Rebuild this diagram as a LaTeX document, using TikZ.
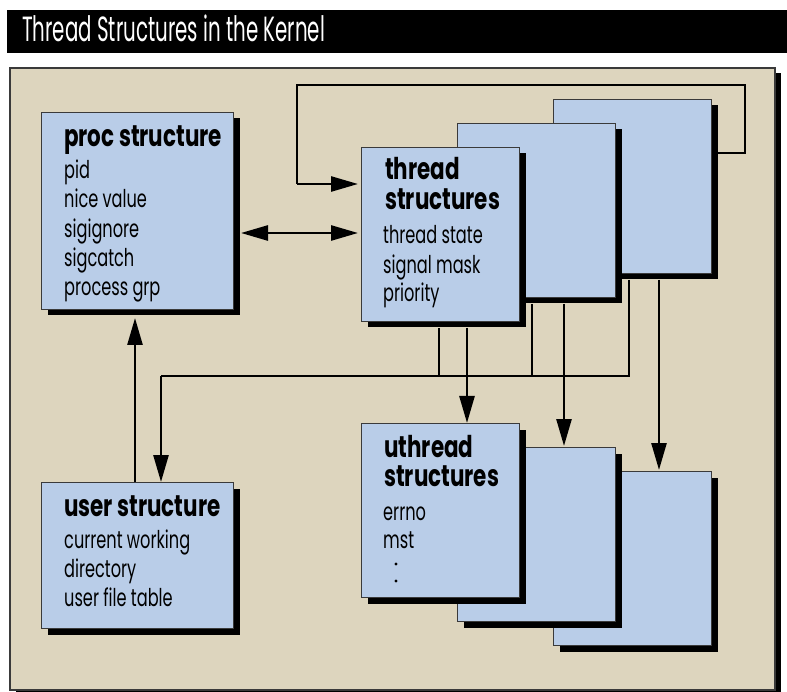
\documentclass[tikz,border=0pt]{standalone}
\usepackage{fontspec}
\usetikzlibrary{arrows.meta,calc,shadows}
\newfontfamily\bodyfam[FakeStretch=0.66]{Poppins}
\newfontfamily\headfam[FakeStretch=0.715]{Poppins}
\newfontfamily\titlefam[FakeStretch=0.566]{Poppins}
\definecolor{tan}{HTML}{DDD5BE}
\definecolor{boxblue}{HTML}{B9CDE8}
\definecolor{edge}{HTML}{3A3A3A}
\tikzset{
  blk/.style={draw=edge, line width=1pt, fill=boxblue, inner sep=0pt,
    drop shadow={shadow xshift=6pt, shadow yshift=-6pt, fill=black, opacity=1}},
  hd/.style={anchor=base west, inner sep=0pt, font=\headfam\bfseries\fontsize{30}{30}\selectfont},
  bd/.style={anchor=base west, inner sep=0pt, font=\bodyfam\fontsize{24.5}{24.5}\selectfont},
  wire/.style={line width=2.6pt, draw=black},
  arr/.style={wire, -{Triangle[length=27pt,width=15pt]}},
  arrs/.style={wire, {Triangle[length=27pt,width=15pt]}-{Triangle[length=27pt,width=15pt]}},
}
\begin{document}
\begin{tikzpicture}[x=1pt,y=-1pt]
\useasboundingbox (0,0) rectangle (787,692);
% title bar
\fill[black] (7,10) rectangle (787,53);
\node[anchor=base west, inner sep=0pt, text=white, font=\titlefam\fontsize{35}{35}\selectfont] (title) at (22,42) {Thread Structures in the Kernel};
% frame
\fill[black] (16,73) rectangle (781,696);
\draw[fill=tan, draw=edge, line width=1.2pt] (10,68) rectangle (775,690);

% structure boxes, back to front
\node[blk, minimum width=192, minimum height=197, anchor=north west] (proc) at (41,112) {};
\node[blk, minimum width=192, minimum height=146, anchor=north west] (user) at (41,482) {};

% connectors (drawn beneath the thread boxes)
\coordinate (busL) at (161,376);
\draw[wire] (711,153) -- (745,153) -- (745,85) -- (297,85) -- (297,184) coordinate (loopEnd);

\node[blk, minimum width=158, minimum height=174, anchor=north west] (th3) at (553,99) {};
\node[blk, minimum width=158, minimum height=174, anchor=north west] (th2) at (457,123) {};
\node[blk, minimum width=158, minimum height=174, anchor=north west] (th1) at (361,147) {};

\node[blk, minimum width=158, minimum height=174, anchor=north west] (ut3) at (553,471) {};
\node[blk, minimum width=158, minimum height=174, anchor=north west] (ut2) at (457,447) {};
\node[blk, minimum width=158, minimum height=174, anchor=north west] (ut1) at (361,423) {};

% taps under each thread box
\path ($(th1.south west)+(78,6)$) coordinate (tap1)
      ($(th2.south west)+(75,6)$) coordinate (tap2)
      ($(th3.south west)+(76,6)$) coordinate (tap3);

% loop from the last thread back to the first
\draw[arr] (loopEnd) -- ($(th1.north west)+(-3,37)$);
% proc <-> thread
\draw[arrs] ($(proc.north east)+(7,121)$) -- ($(th1.north west)+(-3,86)$);
% user -> proc
\draw[arr] ($(user.north west)+(94,0)$) -- ($(proc.south west)+(94,8)$);
% thread bus to user structure
\draw[wire] (tap3) |- (busL);
\draw[arr] (busL) -- (user.north -| busL);
\draw[wire] (tap1) -- (tap1 |- busL);
\draw[wire] (tap2) -- (tap2 |- busL);
% thread -> uthread
\draw[arr] ($(th1.south west)+(106,6)$) -- ($(ut1.north west)+(106,0)$);
\draw[arr] ($(th2.south west)+(107,6)$) -- ($(ut2.north west)+(107,-1)$);
\draw[arr] ($(th3.south west)+(106,6)$) -- ($(ut3.north west)+(106,-1)$);

% texts
\node[hd] (procH) at (64,147) {proc structure};
\node[bd] (p1) at (64,179) {pid};
\node[bd] (p2) at (64,208) {nice value};
\node[bd] (p3) at (64,238) {sigignore};
\node[bd] (p4) at (64,267) {sigcatch};
\node[bd] (p5) at (64,296) {process grp};

\node[hd] (thH1) at (385,180) {thread};
\node[hd] (thH2) at (385,210) {structures};
\node[bd] (t1) at (383,244) {thread state};
\node[bd] (t2) at (383,274) {signal mask};
\node[bd] (t3) at (383,302) {priority};

\node[hd] (utH1) at (384,457) {uthread};
\node[hd] (utH2) at (384,486) {structures};
\node[bd] (u1) at (383,520) {errno};
\node[bd] (u2) at (383,548) {mst};
\fill (396,564) circle (1.7) (396,581) circle (1.7);

\node[hd] (usH) at (64,516) {user structure};
\node[bd] (s1) at (64,548) {current working};
\node[bd] (s2) at (64,577) {directory};
\node[bd] (s3) at (64,606) {user file table};
\end{tikzpicture}
\end{document}
